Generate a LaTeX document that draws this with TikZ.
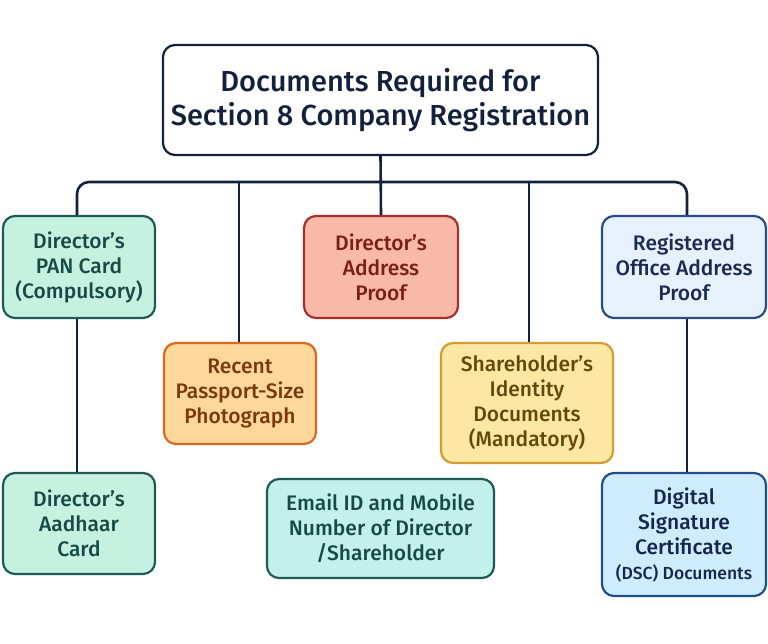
\documentclass[tikz,border=0pt]{standalone}
\usepackage{fontspec}
\setmainfont{Fira Sans}
\newfontfamily\medfont{Fira Sans Medium}
\begin{document}
\begin{tikzpicture}[x=1pt,y=-1pt,
  box/.style={draw, line width=2.2pt, rounded corners=12pt, align=center, inner sep=0pt,
    font=\medfont\fontsize{21}{25}\selectfont},
  link/.style={draw=navy, line width=2.6pt}]
\definecolor{navy}{HTML}{14213D}
\definecolor{tealB}{HTML}{1D5C55}\definecolor{tealF}{HTML}{C6F1E1}\definecolor{tealT}{HTML}{174A45}
\definecolor{salB}{HTML}{A3302A}\definecolor{salF}{HTML}{F9B9A8}\definecolor{salT}{HTML}{7A1E18}
\definecolor{regB}{HTML}{2A4C85}\definecolor{regF}{HTML}{E7F1FB}\definecolor{regT}{HTML}{1A2A52}
\definecolor{recB}{HTML}{D8691F}\definecolor{recF}{HTML}{FDD79B}\definecolor{recT}{HTML}{7A3710}
\definecolor{shB}{HTML}{D39B33}\definecolor{shF}{HTML}{FDE8A3}\definecolor{shT}{HTML}{66460F}
\definecolor{emB}{HTML}{1D5C55}\definecolor{emF}{HTML}{C2F0EA}\definecolor{emT}{HTML}{174A45}
\definecolor{dsB}{HTML}{1F4F8A}\definecolor{dsF}{HTML}{CFECFC}\definecolor{dsT}{HTML}{14264D}
\useasboundingbox[fill=white] (0,0) rectangle (768,643);
\node[box, draw=navy, fill=white, text=navy, minimum width=435pt, minimum height=110pt,
  font=\medfont\fontsize{29}{34}\selectfont] (title) at (380.5,100) {Documents Required for\\Section 8 Company Registration};
\node[box, draw=tealB, fill=tealF, text=tealT, minimum width=152pt, minimum height=102pt] (pan) at (79,267) {Director’s\\PAN Card\\(Compulsory)};
\node[box, draw=salB, fill=salF, text=salT, minimum width=154pt, minimum height=102pt] (addr) at (381,267) {Director’s\\Address\\Proof};
\node[box, draw=regB, fill=regF, text=regT, minimum width=164pt, minimum height=102pt] (reg) at (684,267) {Registered\\Office Address\\Proof};
\node[box, draw=recB, fill=recF, text=recT, minimum width=152pt, minimum height=101pt] (rec) at (240,393.5) {Recent\\Passport-Size\\Photograph};
\node[box, draw=shB, fill=shF, text=shT, minimum width=172pt, minimum height=120pt] (sh) at (527,403) {Shareholder’s\\Identity\\Documents\\(Mandatory)};
\node[box, draw=tealB, fill=tealF, text=tealT, minimum width=152pt, minimum height=101pt] (aad) at (79,523.5) {Director’s\\Aadhaar\\Card};
\node[box, draw=emB, fill=emF, text=emT, minimum width=227pt, minimum height=99pt] (em) at (380.5,528.5) {Email ID and Mobile\\Number of Director\\/Shareholder};
\node[box, draw=dsB, fill=dsF, text=dsT, minimum width=164pt, minimum height=123pt] (dsc) at (684,534.5) {Digital\\Signature\\Certificate\\{\fontsize{17.5}{21}\selectfont (DSC) Documents}};
\coordinate (busL) at (77,182);
\coordinate (busR) at (687,182);
\coordinate (busM) at (380.5,182);
\draw[link, rounded corners=12pt] (pan.north -| busL) -- (busL) -- (busR) -- (reg.north -| busR);
\draw[link] (title.south) -- (addr.north);
\draw[link] (rec.north -| 239,0) -- (239,182);
\draw[link] (sh.north -| 529,0) -- (529,182);
\draw[link] (pan.south -| busL) -- (aad.north -| busL);
\draw[link] (reg.south -| busR) -- (dsc.north -| busR);
\end{tikzpicture}
\end{document}
